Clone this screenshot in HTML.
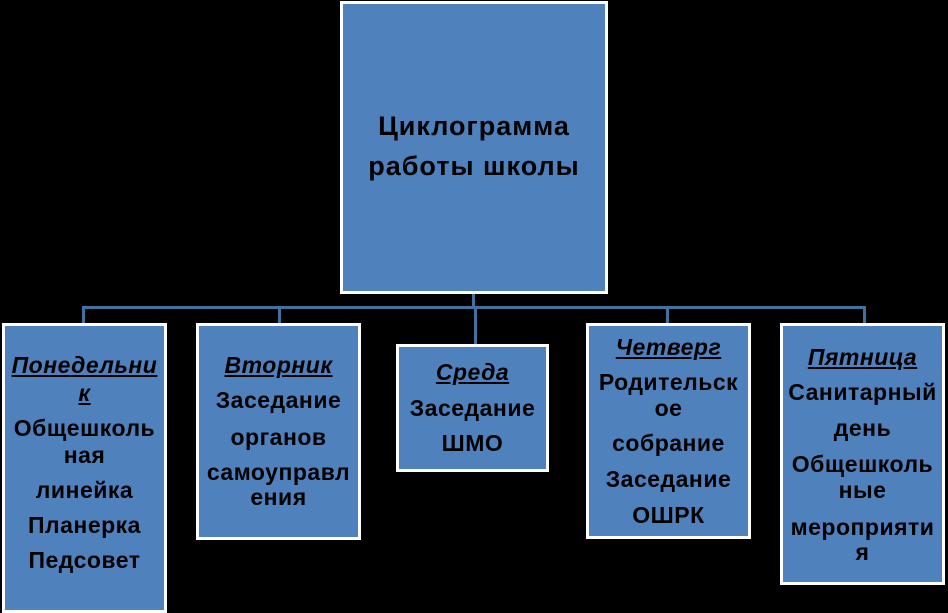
<!DOCTYPE html>
<html><head><meta charset="utf-8"><style>
body{margin:0;background:#000;width:948px;height:603px;overflow:hidden;position:relative;font-family:"Liberation Sans",Arial,sans-serif}
.b{position:absolute;background:#4f81bd;border:3px solid #fff;box-sizing:border-box}
.l{position:absolute;background:#41719c}
.t{position:absolute;text-align:center;font-size:23px;font-weight:bold;letter-spacing:0.5px;line-height:24px;color:#000;white-space:nowrap}
.h{font-style:italic;text-decoration:underline}
</style></head><body>
<div class="l" style="left:82px;top:306px;width:784px;height:3px"></div>
<div class="l" style="left:472px;top:292px;width:3px;height:16px"></div>
<div class="l" style="left:474px;top:308px;width:3px;height:38px"></div>
<div class="l" style="left:82px;top:306px;width:3px;height:20px"></div>
<div class="l" style="left:278px;top:306px;width:3px;height:20px"></div>
<div class="l" style="left:666px;top:306px;width:3px;height:20px"></div>
<div class="l" style="left:863px;top:306px;width:3px;height:20px"></div>

<div class="b" style="left:340px;top:1px;width:268px;height:293px"></div>
<div class="t" style="left:340px;width:268px;top:111px;font-size:27px;line-height:30px;letter-spacing:1px">Циклограмма</div>
<div class="t" style="left:340px;width:268px;top:151px;font-size:27px;line-height:30px;letter-spacing:1px">работы школы</div>

<div class="b" style="left:2px;top:323px;width:165px;height:290px"></div>
<div class="t h" style="left:2px;width:165px;top:353px">Понедельни</div>
<div class="t h" style="left:2px;width:165px;top:381px">к</div>
<div class="t" style="left:2px;width:165px;top:416px">Общешколь</div>
<div class="t" style="left:2px;width:165px;top:443px">ная</div>
<div class="t" style="left:2px;width:165px;top:478px">линейка</div>
<div class="t" style="left:2px;width:165px;top:513px">Планерка</div>
<div class="t" style="left:2px;width:165px;top:548px">Педсовет</div>

<div class="b" style="left:196px;top:323px;width:165px;height:217px"></div>
<div class="t h" style="left:196px;width:165px;top:353px">Вторник</div>
<div class="t" style="left:196px;width:165px;top:388px">Заседание</div>
<div class="t" style="left:196px;width:165px;top:425px">органов</div>
<div class="t" style="left:196px;width:165px;top:460px">самоуправл</div>
<div class="t" style="left:196px;width:165px;top:485px">ения</div>

<div class="b" style="left:396px;top:344px;width:153px;height:128px"></div>
<div class="t h" style="left:396px;width:153px;top:360px">Среда</div>
<div class="t" style="left:396px;width:153px;top:396px">Заседание</div>
<div class="t" style="left:396px;width:153px;top:431px">ШМО</div>

<div class="b" style="left:586px;top:323px;width:165px;height:216px"></div>
<div class="t h" style="left:586px;width:165px;top:335px">Четверг</div>
<div class="t" style="left:586px;width:165px;top:370px">Родительск</div>
<div class="t" style="left:586px;width:165px;top:396px">ое</div>
<div class="t" style="left:586px;width:165px;top:431px">собрание</div>
<div class="t" style="left:586px;width:165px;top:467px">Заседание</div>
<div class="t" style="left:586px;width:165px;top:503px">ОШРК</div>

<div class="b" style="left:780px;top:323px;width:165px;height:262px"></div>
<div class="t h" style="left:780px;width:165px;top:345px">Пятница</div>
<div class="t" style="left:780px;width:165px;top:380px">Санитарный</div>
<div class="t" style="left:780px;width:165px;top:416px">день</div>
<div class="t" style="left:780px;width:165px;top:452px">Общешколь</div>
<div class="t" style="left:780px;width:165px;top:478px">ные</div>
<div class="t" style="left:780px;width:165px;top:515px">мероприяти</div>
<div class="t" style="left:780px;width:165px;top:540px">я</div>
</body></html>
